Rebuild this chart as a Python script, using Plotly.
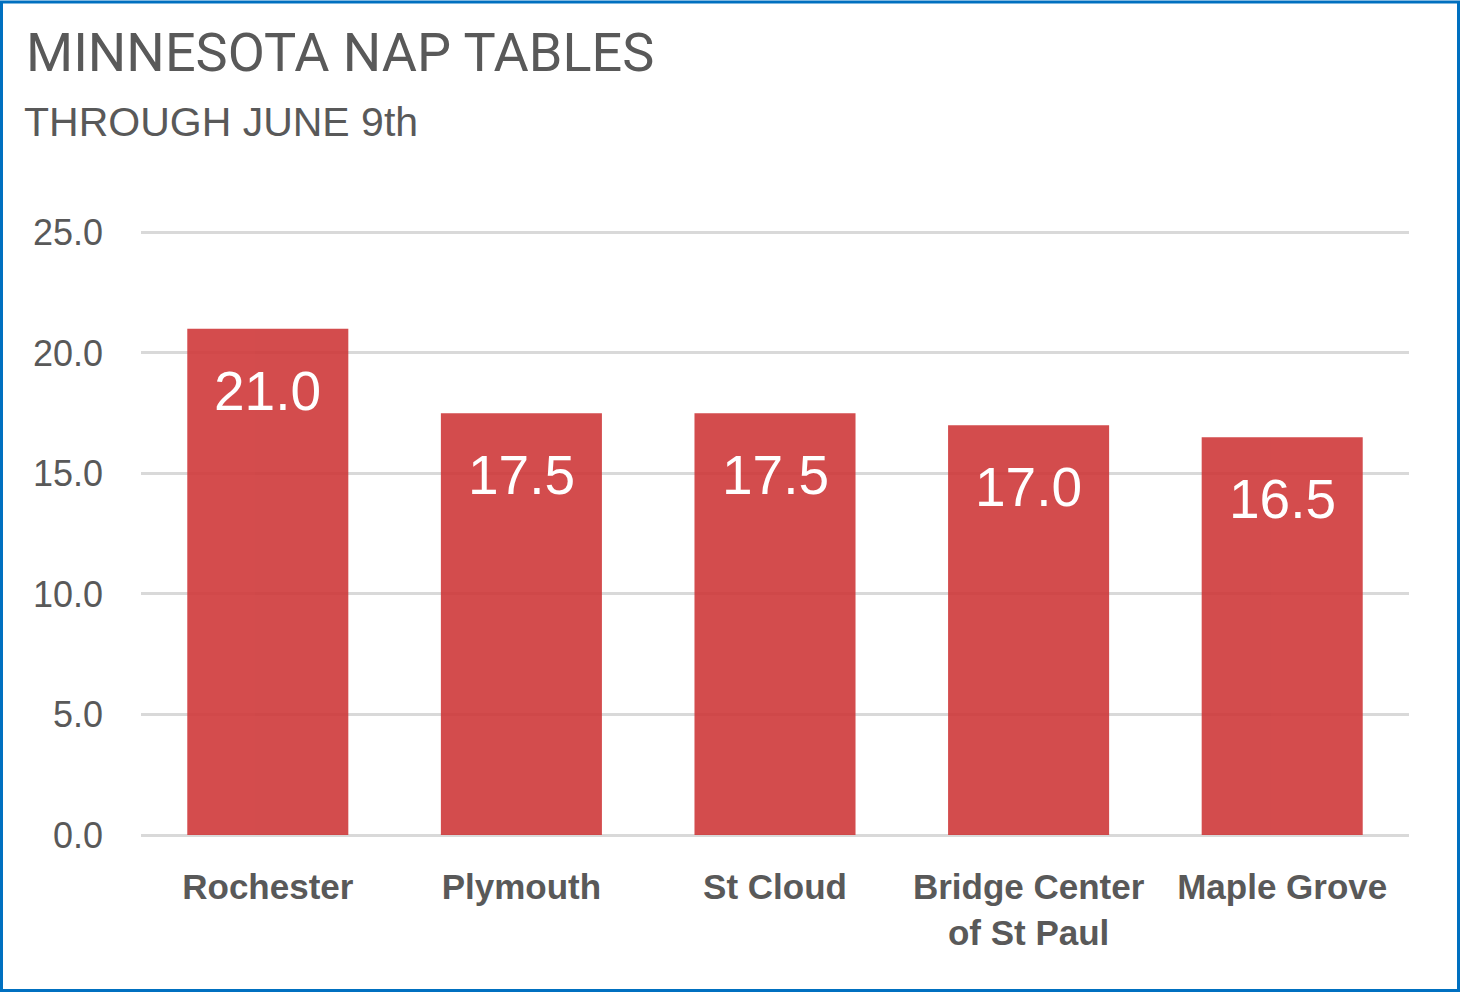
import plotly.graph_objects as go

# nap table counts through June 9th
clubs = ["Rochester", "Plymouth", "St Cloud", "Bridge Center<br>of St Paul", "Maple Grove"]
tables = [21.0, 17.5, 17.5, 17.0, 16.5]
y_ticks = [0, 5, 10, 15, 20, 25]

W, H = 1460, 992
ML, MR, MB = 141, 51, 157
# 0..25 spans y=232..835; range goes a hair past 25 so the top gridline is drawn
px_per = (835 - 232) / 25
y_top = 25.1
MT = 232 - (y_top - 25) * px_per
grey = "#595959"

fig = go.Figure()
fig.add_trace(go.Bar(
    x=clubs,
    y=tables,
    marker=dict(color="rgb(207,57,58)", line=dict(width=0)),
    opacity=0.9,
    hoverinfo="skip",
))

# value labels sit a bit below the top of each bar
for club, val in zip(clubs, tables):
    fig.add_annotation(
        x=club, y=val, text=f"{val:.1f}", showarrow=False,
        yanchor="top", yshift=-29,
        font=dict(family="Liberation Sans, Arial", size=55, color="white"),
    )

pw, ph = W - ML - MR, H - MT - MB

# thin blue frame round the whole chart
fig.add_shape(
    type="rect", xref="paper", yref="paper", layer="above",
    x0=-(ML - 1.5) / pw, x1=1 + (MR - 1.5) / pw,
    y0=-(MB - 1.5) / ph, y1=1 + (MT - 1.5) / ph,
    line=dict(color="#0070C0", width=3),
)

fig.update_layout(
    width=W, height=H,
    margin=dict(l=ML, r=MR, t=MT, b=MB),
    paper_bgcolor="white", plot_bgcolor="white",
    bargap=0.365,
    showlegend=False,
    title=dict(
        text="MINNESOTA NAP TABLES",
        xref="container", yref="container", x=26 / W, y=1 - 33 / H,
        xanchor="left", yanchor="top",
        font=dict(family="Roboto", size=54, color=grey),
    ),
)
fig.add_annotation(
    text="THROUGH JUNE 9th", xref="paper", yref="paper",
    x=-(ML - 22) / pw, y=1 + (MT - 96) / ph,
    xanchor="left", yanchor="top", showarrow=False,
    font=dict(family="Liberation Sans, Arial", size=41, color=grey),
)

fig.update_xaxes(
    showgrid=False, showline=False, zeroline=False,
    ticks="", ticklabelstandoff=28,
    tickfont=dict(family="Liberation Sans, Arial", size=35, color=grey, weight="bold"),
)
fig.update_yaxes(
    range=[0, y_top], tickvals=y_ticks, tickformat=".1f",
    showgrid=True, gridcolor="#D9D9D9", gridwidth=2.5,
    zeroline=True, zerolinecolor="#D9D9D9", zerolinewidth=2.5,
    showline=False, ticks="", ticklabelstandoff=37,
    tickfont=dict(family="Liberation Sans, Arial", size=36, color=grey),
)

fig.write_html("out.html", config={"displayModeBar": False},
               post_script="document.body.style.margin='0';")
